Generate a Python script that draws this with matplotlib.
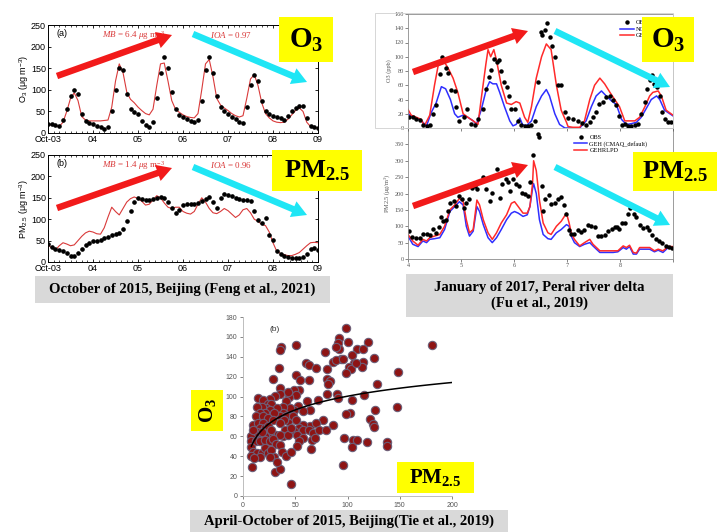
import numpy as np
import matplotlib.pyplot as plt
from matplotlib.patches import FancyArrow, Rectangle

plt.rcParams['font.family'] = ['Liberation Sans', 'DejaVu Sans']
plt.rcParams['mathtext.fontset'] = 'custom'
plt.rcParams['mathtext.rm'] = 'Liberation Serif'
plt.rcParams['mathtext.it'] = 'Liberation Serif:italic'
plt.rcParams['mathtext.bf'] = 'Liberation Serif:bold'

# ---- Beijing, October 2015 (2-hourly, days after Oct-03 00:00) ----
bj_ticks = ['Oct-03', '04', '05', '06', '07', '08', '09']
o3_obs_bj = [20, 20, 18, 16, 30, 55, 85, 99, 90, 45, 28, 22,
             20, 16, 13, 10, 15, 50, 100, 150, 145, 90, 55, 48,
             45, 28, 18, 14, 25, 80, 140, 175, 150, 95, 55, 42,
             38, 33, 28, 25, 30, 75, 145, 175, 140, 85, 60, 52,
             45, 38, 32, 25, 22, 60, 110, 135, 120, 75, 52, 45,
             40, 38, 35, 30, 40, 52, 58, 63, 62, 35, 17, 13, 12]
o3_mod_bj = [20, 19, 17, 15, 25, 50, 80, 93, 75, 38, 30, 28,
             28, 28, 28, 29, 30, 60, 120, 160, 140, 95, 78, 70,
             60, 52, 45, 42, 55, 110, 160, 162, 120, 75, 55, 48,
             42, 38, 36, 35, 45, 100, 160, 170, 130, 80, 65, 58,
             52, 45, 40, 37, 40, 80, 125, 135, 110, 70, 45, 35,
             28, 25, 24, 25, 32, 42, 52, 58, 50, 25, 15, 13, 12]
pm_obs_bj = [42, 35, 30, 28, 25, 20, 15, 15, 20, 30, 40, 44,
             48, 50, 52, 55, 58, 62, 65, 68, 78, 95, 120, 140,
             150, 148, 145, 146, 147, 150, 152, 150, 140, 125, 115, 122,
             133, 135, 135, 135, 138, 142, 148, 152, 140, 125, 150, 158,
             157, 155, 150, 148, 146, 145, 143, 118, 98, 92, 103, 62,
             52, 25, 18, 14, 12, 10, 10, 10, 12, 18, 30, 32, 28]
pm_mod_bj = [40, 33, 28, 38, 45, 42, 38, 40, 50, 60, 68, 72,
             70, 66, 65, 80, 105, 128, 118, 110, 125, 140, 148, 152,
             148, 142, 133, 135, 145, 155, 150, 138, 128, 125, 128, 128,
             118, 114, 112, 118, 135, 150, 140, 125, 115, 113, 118, 125,
             120, 112, 104, 110, 122, 125, 115, 100, 95, 88, 85, 70,
             45, 25, 20, 17, 15, 15, 18, 22, 30, 38, 45, 46, 45]

# ---- Pearl river delta, January 2017 (day of month) ----
prd_o3_obs_day = [4.02, 4.09, 4.16, 4.22, 4.28, 4.35, 4.41, 4.47, 4.53, 4.60, 4.64, 4.71, 4.75,
                  4.82, 4.88, 4.91, 4.97, 5.05, 5.11, 5.18, 5.26, 5.32, 5.42, 5.48, 5.53, 5.57,
                  5.62, 5.67, 5.72, 5.76, 5.81, 5.86, 5.91, 5.95, 6.01, 6.08, 6.14, 6.20, 6.26,
                  6.33, 6.39, 6.45, 6.50, 6.53, 6.58, 6.63, 6.67, 6.72, 6.77, 6.83, 6.89, 6.96,
                  7.02, 7.11, 7.21, 7.29, 7.36, 7.43, 7.49, 7.55, 7.60, 7.67, 7.73, 7.81, 7.87,
                  7.93, 7.98, 8.03, 8.09, 8.15, 8.21, 8.28, 8.34, 8.40, 8.47, 8.51, 8.56, 8.61,
                  8.65, 8.70, 8.75, 8.79, 8.84, 8.91, 8.97]
prd_o3_obs = [16, 15, 13, 11, 4, 3, 4, 20, 32, 76, 100, 84, 77,
              53, 52, 30, 10, 16, 26, 5, 4, 13, 26, 55, 72, 82,
              97, 93, 95, 80, 65, 57, 45, 26, 26, 10, 4, 3, 3,
              4, 10, 65, 135, 130, 138, 147, 128, 115, 100, 60, 60, 22,
              14, 13, 10, 7, 4, 8, 16, 22, 33, 37, 44, 45, 40,
              32, 17, 4, 5, 3, 3, 4, 5, 20, 36, 55, 68, 75,
              62, 57, 45, 23, 13, 8, 8]
prd_o3_red_day = [4.00, 4.06, 4.16, 4.25, 4.31, 4.41, 4.50, 4.57, 4.63, 4.69, 4.75, 4.85,
                  4.94, 5.04, 5.13, 5.23, 5.32, 5.38, 5.47, 5.51, 5.56, 5.62, 5.67, 5.76,
                  5.86, 5.95, 6.04, 6.11, 6.20, 6.26, 6.33, 6.42, 6.52, 6.61, 6.70, 6.80,
                  6.89, 6.99, 7.02, 7.11, 7.24, 7.33, 7.43, 7.52, 7.62, 7.71, 7.81, 7.90,
                  7.99, 8.09, 8.18, 8.28, 8.37, 8.47, 8.56, 8.62, 8.72, 8.78, 8.87, 9.00]
prd_o3_red = [26, 18, 15, 12, 3, 18, 60, 88, 90, 92, 85, 70,
              50, 20, 15, 10, 5, 40, 90, 110, 100, 110, 95, 60,
              35, 33, 37, 35, 15, 8, 30, 70, 100, 118, 110, 60,
              25, 8, 2, 1, 1, 10, 40, 60, 70, 62, 50, 40,
              30, 10, 10, 10, 15, 30, 45, 50, 52, 45, 25, 18]
prd_o3_blue_day = [4.00, 4.09, 4.19, 4.28, 4.35, 4.44, 4.53, 4.63, 4.71, 4.80, 4.88, 4.94,
                   5.04, 5.13, 5.23, 5.29, 5.38, 5.48, 5.54, 5.60, 5.67, 5.73, 5.82, 5.92,
                   5.98, 6.04, 6.11, 6.16, 6.23, 6.33, 6.42, 6.52, 6.61, 6.67, 6.77, 6.86,
                   6.96, 7.11, 7.24, 7.36, 7.46, 7.55, 7.65, 7.74, 7.84, 7.93, 8.03, 8.12,
                   8.21, 8.31, 8.40, 8.50, 8.59, 8.69, 8.75, 8.84, 9.00]
prd_o3_blue = [20, 15, 13, 8, 3, 22, 35, 58, 55, 40, 20, 15,
               18, 15, 10, 5, 25, 55, 65, 62, 62, 50, 30, 10,
               3, 5, 14, 5, 3, 10, 30, 45, 54, 45, 20, 5,
               0, 0, 0, 10, 30, 45, 52, 45, 38, 33, 12, 5,
               6, 8, 15, 28, 40, 45, 40, 25, 17]

prd_pm_obs_day = [4.02, 4.08, 4.16, 4.22, 4.28, 4.35, 4.41, 4.47, 4.52, 4.58, 4.63, 4.66, 4.71,
                  4.75, 4.80, 4.86, 4.91, 4.96, 5.01, 5.05, 5.10, 5.15, 5.21, 5.26, 5.30, 5.35,
                  5.42, 5.48, 5.54, 5.59, 5.67, 5.73, 5.78, 5.84, 5.89, 5.93, 5.98, 6.03, 6.09,
                  6.16, 6.21, 6.26, 6.31, 6.36, 6.45, 6.48, 6.52, 6.55, 6.59, 6.66, 6.70, 6.77,
                  6.83, 6.88, 6.94, 6.99, 7.04, 7.08, 7.14, 7.21, 7.27, 7.33, 7.40, 7.46, 7.52,
                  7.58, 7.65, 7.71, 7.77, 7.84, 7.90, 7.94, 7.99, 8.04, 8.10, 8.15, 8.19, 8.26,
                  8.31, 8.37, 8.43, 8.50, 8.55, 8.61, 8.67, 8.74, 8.80, 8.86, 8.92, 8.99]
prd_pm_obs = [84, 67, 63, 64, 77, 76, 74, 92, 79, 98, 129, 115, 120,
              146, 172, 177, 162, 193, 184, 157, 172, 184, 218, 223, 213, 234,
              249, 213, 177, 203, 275, 187, 229, 244, 234, 208, 244, 229, 223,
              203, 198, 193, 234, 319, 383, 371, 223, 146, 182, 195, 169, 172,
              184, 190, 164, 136, 90, 77, 77, 88, 81, 88, 105, 102, 98,
              69, 69, 74, 84, 92, 98, 98, 92, 110, 110, 136, 157, 136,
              129, 105, 95, 98, 90, 74, 61, 54, 48, 40, 38, 35]
prd_pm_mod_day = [4.00, 4.09, 4.19, 4.28, 4.35, 4.41, 4.50, 4.60, 4.69, 4.79, 4.88, 4.97,
                  5.04, 5.10, 5.16, 5.23, 5.30, 5.35, 5.42, 5.51, 5.59, 5.67, 5.76, 5.86,
                  5.95, 6.01, 6.08, 6.17, 6.25, 6.30, 6.35, 6.37, 6.42, 6.48, 6.55, 6.64,
                  6.70, 6.80, 6.89, 6.99, 7.04, 7.08, 7.14, 7.24, 7.33, 7.43, 7.49, 7.62,
                  7.74, 7.87, 7.96, 8.06, 8.12, 8.18, 8.25, 8.31, 8.37, 8.47, 8.56, 8.65,
                  8.72, 8.81, 8.91, 9.00]
prd_pm_red = [75, 55, 42, 60, 55, 65, 70, 75, 100, 150, 165, 185,
              175, 120, 80, 90, 180, 165, 120, 80, 60, 80, 110, 135,
              170, 175, 160, 140, 140, 160, 230, 300, 270, 180, 110, 80,
              75, 100, 115, 140, 110, 80, 60, 40, 50, 60, 45, 25,
              25, 25, 25, 40, 35, 42, 20, 18, 35, 35, 35, 25,
              30, 25, 38, 38]
prd_pm_blue = [70, 45, 38, 55, 50, 60, 62, 65, 90, 145, 160, 175,
               165, 100, 70, 85, 160, 145, 105, 65, 50, 65, 90, 120,
               140, 145, 140, 130, 135, 160, 215, 230, 200, 120, 75, 62,
               60, 80, 90, 105, 100, 70, 50, 38, 45, 50, 40, 20,
               20, 20, 22, 35, 30, 38, 15, 15, 30, 30, 30, 22,
               27, 20, 35, 35]

# ---- Beijing April-October 2015 scatter (Tie et al.) ----
pm_tie = [99, 181, 51, 36, 35, 120, 92, 100, 91, 92, 109, 115, 94, 86, 89, 96, 104, 106, 115, 125,
          78, 60, 63, 70, 80, 101, 103, 99, 114, 148, 34, 51, 55, 29, 80, 83, 81, 63, 128, 116,
          104, 90, 91, 80, 72, 61, 54, 49, 51, 44, 43, 35, 35, 31, 26, 14, 19, 24, 27, 41,
          53, 64, 57, 49, 45, 38, 38, 33, 35, 22, 18, 13, 26, 21, 30, 16, 12, 19, 24, 29,
          43, 41, 48, 102, 99, 126, 147, 77, 51, 39, 35, 64, 57, 54, 70, 57, 63, 67, 73, 79,
          86, 122, 124, 125, 45, 49, 40, 38, 32, 35, 26, 21, 16, 11, 8, 10, 14, 19, 16, 21,
          24, 27, 13, 18, 10, 8, 12, 16, 21, 26, 29, 32, 35, 43, 46, 52, 57, 54, 66, 69,
          52, 37, 41, 46, 65, 8, 10, 13, 18, 16, 21, 24, 27, 30, 26, 8, 11, 9, 31, 35,
          33, 96, 46, 97, 105, 109, 104, 119, 138, 138, 108, 89]
o3_tie = [169, 152, 152, 150, 147, 155, 159, 155, 154, 148, 148, 148, 138, 135, 137, 138, 142, 134, 135, 139,
          145, 134, 132, 129, 128, 130, 128, 124, 130, 125, 129, 122, 117, 118, 118, 116, 113, 117, 113, 102,
          97, 103, 99, 103, 97, 96, 107, 107, 102, 100, 105, 109, 103, 101, 98, 99, 97, 93, 93, 96,
          91, 86, 85, 86, 88, 90, 83, 88, 80, 88, 90, 90, 86, 83, 83, 83, 80, 80, 78, 76,
          75, 80, 80, 83, 82, 86, 89, 76, 76, 76, 73, 70, 71, 68, 73, 66, 66, 63, 66, 66,
          71, 77, 72, 69, 66, 65, 66, 60, 61, 61, 61, 60, 61, 61, 60, 71, 73, 73, 68, 68,
          70, 66, 64, 64, 66, 55, 55, 55, 56, 55, 57, 52, 51, 61, 68, 61, 58, 55, 56, 58,
          50, 44, 40, 44, 47, 49, 44, 43, 43, 39, 48, 43, 46, 39, 39, 40, 38, 29, 24, 27,
          34, 31, 12, 58, 56, 56, 49, 54, 54, 50, 134, 150]
# log fit shown in the paper: O3 = a + b*ln(PM2.5)
fit_a, fit_b = 8.7, 19.9

W, H = 717, 532
fig = plt.figure(figsize=(W / 100, H / 100), dpi=100)


def px_axes(x0, y0, x1, y1):
    return fig.add_axes([x0 / W, 1 - y1 / H, (x1 - x0) / W, (y1 - y0) / H])


# ---------- left column ----------
def beijing_panel(ax, obs, mod, ylabel, tag, mb, ioa):
    t = np.arange(len(obs)) / 12
    ax.plot(t, mod, color='#d93a3a', lw=0.8)
    ax.plot(t, obs, 'o', color='black', ms=2.3)
    ax.set_xlim(0, 6)
    ax.set_ylim(0, 250)
    ax.set_xticks(range(7))
    ax.set_xticklabels(bj_ticks)
    ax.set_xticks(np.arange(0, 6.01, 0.125), minor=True)
    ax.set_yticks(range(0, 251, 50))
    ax.tick_params(direction='in', top=True, right=True, labelsize=6.5,
                   length=2.5, width=0.6, pad=1.5)
    ax.tick_params(which='minor', direction='in', top=True, length=1.2, width=0.5)
    for s in ax.spines.values():
        s.set_linewidth(0.7)
    ax.set_ylabel(ylabel, fontsize=6.5, labelpad=1)
    ax.text(0.03, 0.9, tag, transform=ax.transAxes, fontsize=6.5)
    ax.text(0.2, 0.88, r'$\mathit{MB}$ = ' + mb + r' $\mu$g m$^{-3}$', transform=ax.transAxes,
            fontsize=6.5, color='#d93a3a', family='Liberation Serif')
    ax.text(0.6, 0.88, r'$\mathit{IOA}$ = ' + ioa, transform=ax.transAxes,
            fontsize=6.5, color='#d93a3a', family='Liberation Serif')


ax_a = px_axes(48, 25, 318, 133)
beijing_panel(ax_a, o3_obs_bj, o3_mod_bj, r'O$_\mathregular{3}$ ($\mathregular{\mu}$g m$^\mathregular{-3}$)',
              '(a)', '6.4', '0.97')
ax_b = px_axes(48, 155, 318, 262)
beijing_panel(ax_b, pm_obs_bj, pm_mod_bj, r'PM$_\mathregular{2.5}$ ($\mathregular{\mu}$g m$^\mathregular{-3}$)',
              '(b)', '1.4', '0.96')


# ---------- right column ----------
def prd_style(ax, ylabel):
    for s in ax.spines.values():
        s.set_color('#8c8c8c')
        s.set_linewidth(0.6)
    ax.set_xlim(4, 9)
    ax.tick_params(labelsize=4.5, colors='#555555', length=2, width=0.5, pad=1)
    for lab in ax.get_xticklabels() + ax.get_yticklabels():
        lab.set_family('Liberation Serif')
    ax.set_ylabel(ylabel, fontsize=4.5, family='Liberation Serif', color='#555555', labelpad=2)


leg_kw = dict(frameon=False, prop={'family': 'Liberation Serif', 'size': 4.5},
              handlelength=2.2, labelspacing=0.15, borderpad=0.2, handletextpad=0.3)

ax_pm = px_axes(408, 128, 673, 259)
ax_pm.plot(prd_pm_mod_day, prd_pm_blue, color='#2f2fff', lw=1.1, label='GEH (CMAQ_default)')
ax_pm.plot(prd_pm_mod_day, prd_pm_red, color='#ff2a2a', lw=1.1, label='GEHRLPD')
ax_pm.plot(prd_pm_obs_day, prd_pm_obs, 'o', color='black', ms=2.2, label='OBS')
ax_pm.set_ylim(0, 400)
ax_pm.set_yticks(range(0, 401, 50))
ax_pm.set_xticks(range(4, 10))
prd_style(ax_pm, r'PM2.5 ($\mathregular{\mu}$g/m$^\mathregular{3}$)')
ax_pm.set_yticklabels([str(v) for v in range(0, 351, 50)] + [''], family='Liberation Serif')
ax_pm.set_xticklabels(['4', '5', '6', '7', '8', ''], family='Liberation Serif')
h, l = ax_pm.get_legend_handles_labels()
ax_pm.legend([h[2], h[0], h[1]], [l[2], l[0], l[1]], loc='upper right',
             bbox_to_anchor=(0.92, 0.985), **leg_kw)

ax_o3 = px_axes(408, 14, 673, 128)
ax_o3.plot(prd_o3_blue_day, prd_o3_blue, color='#2f2fff', lw=1.1, label='NO_HONO')
ax_o3.plot(prd_o3_red_day, prd_o3_red, color='#ff2a2a', lw=1.1, label='GEHRLPD')
ax_o3.plot(prd_o3_obs_day, prd_o3_obs, 'o', color='black', ms=2.2, label='OBS')
ax_o3.set_ylim(0, 160)
ax_o3.set_yticks(range(0, 161, 20))
ax_o3.set_xticks(range(4, 10))
prd_style(ax_o3, 'O3 (ppb)')
ax_o3.set_xticklabels([])
h, l = ax_o3.get_legend_handles_labels()
ax_o3.legend([h[2], h[0], h[1]], [l[2], l[0], l[1]], loc='upper right',
             bbox_to_anchor=(0.99, 0.985), **leg_kw)

# ---------- scatter ----------
ax_s = px_axes(243, 317, 452, 496)
ax_s.scatter(pm_tie, o3_tie, s=36, facecolor='#8e1414', edgecolor='#6d5f78', linewidth=0.8, zorder=3)
xf = np.linspace(min(pm_tie), 200, 100)
ax_s.plot(xf, fit_a + fit_b * np.log(xf), color='black', lw=1.1, zorder=4)
ax_s.set_xlim(0, 200)
ax_s.set_ylim(0, 180)
ax_s.set_xticks(range(0, 201, 50))
ax_s.set_yticks(range(0, 181, 20))
for side in ['top', 'right']:
    ax_s.spines[side].set_visible(False)
for side in ['left', 'bottom']:
    ax_s.spines[side].set_color('#bdbdbd')
    ax_s.spines[side].set_linewidth(0.7)
ax_s.tick_params(labelsize=5, colors='#555555', length=2, width=0.5, pad=2)
ax_s.text(25, 166, '(b)', fontsize=6, color='#333333')

# ---------- overlay: arrows, yellow labels, captions ----------
ov = fig.add_axes([0, 0, 1, 1], zorder=10)
ov.set_xlim(0, W)
ov.set_ylim(H, 0)
ov.axis('off')

# faint outer frame of the Excel O3 chart
ov.add_patch(Rectangle((375, 13), 298, 115, facecolor='none', edgecolor='#d0d0d0', lw=0.6))


def arrow(x0, y0, x1, y1, color):
    ov.add_patch(FancyArrow(x0, y0, x1 - x0, y1 - y0, width=6.5, head_width=17, head_length=15,
                            length_includes_head=True, color=color, lw=0))


def yellow(x0, y0, x1, y1, txt, size, rot=0):
    ov.add_patch(Rectangle((x0, y0), x1 - x0, y1 - y0, facecolor='#ffff00', edgecolor='none'))
    ov.text((x0 + x1) / 2, (y0 + y1) / 2, txt, ha='center', va='center', fontsize=size, rotation=rot)


def caption(x0, y0, x1, y1, lines):
    ov.add_patch(Rectangle((x0, y0), x1 - x0, y1 - y0, facecolor='#d9d9d9', edgecolor='none'))
    ov.text((x0 + x1) / 2, (y0 + y1) / 2, lines, ha='center', va='center', fontsize=10.5,
            family='Liberation Serif', weight='bold', linespacing=1.2)


red, cyan = '#f21a1a', '#1fe6f5'
for (x0, y0, x1, y1) in [(57, 76, 172, 35), (57, 208, 172, 168), (413, 72, 528, 31), (413, 206, 528, 165)]:
    arrow(x0, y0, x1, y1, red)
for (x0, y0, x1, y1) in [(193, 34, 307, 82), (193, 167, 307, 215), (555, 31, 670, 87), (555, 167, 670, 225)]:
    arrow(x0, y0, x1, y1, cyan)

o3_txt = r'$\mathbf{O_3}$'
pm_txt = r'$\mathbf{PM_{2.5}}$'
yellow(279, 17, 333, 62, o3_txt, 21)
yellow(642, 17, 694, 62, o3_txt, 21)
yellow(272, 150, 362, 191, pm_txt, 19)
yellow(633, 152, 717, 191, pm_txt, 19)
yellow(191, 390, 223, 431, o3_txt, 15, rot=90)
yellow(397, 462, 474, 493, pm_txt, 15)

caption(35, 276, 330, 303, 'October of 2015, Beijing (Feng et al., 2021)')
caption(406, 274, 673, 317, 'January of 2017, Peral river delta\n(Fu et al., 2019)')
caption(190, 510, 508, 532, 'April-October of 2015, Beijing(Tie et al., 2019)')

fig.savefig('out.png', dpi=100)
